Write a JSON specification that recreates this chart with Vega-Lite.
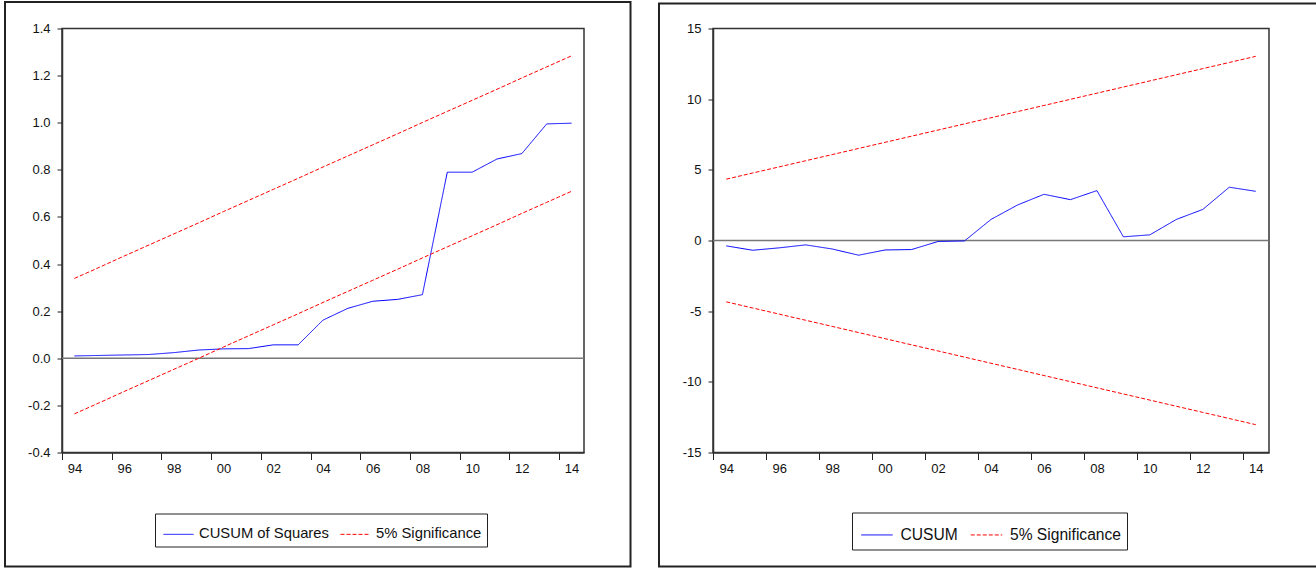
{
  "$schema": "https://vega.github.io/schema/vega-lite/v6.json",
  "padding": {"left": 3, "top": -0.5, "right": 0, "bottom": 0},
  "background": "white",
  "spacing": 24,
  "config": {
    "font": "Liberation Sans",
    "view": {"stroke": "#333333", "strokeWidth": 1.5},
    "axis": {"grid": false, "domainColor": "#333333", "domainWidth": 1.5, "tickColor": "#222222", "tickWidth": 1, "labelFont": "Liberation Sans", "labelFontSize": 13, "labelColor": "#111111"},
    "legend": {"orient": "none", "direction": "horizontal", "symbolType": "stroke", "symbolStrokeWidth": 1, "labelFont": "Liberation Sans", "labelColor": "#111111", "strokeColor": "#222222", "fillColor": "white", "symbolOffset": 3}
  },
  "resolve": {"scale": {"color": "independent", "strokeDash": "independent"}, "legend": {"color": "independent", "strokeDash": "independent"}},
  "hconcat": [
    {
      "width": 522,
      "height": 424,
      "data": {"values": [
        {"year": 1994, "cusumsq": 0.010, "upper": 0.339, "lower": -0.236},
        {"year": 1995, "cusumsq": 0.012, "upper": 0.386, "lower": -0.189},
        {"year": 1996, "cusumsq": 0.014, "upper": 0.434, "lower": -0.141},
        {"year": 1997, "cusumsq": 0.016, "upper": 0.481, "lower": -0.094},
        {"year": 1998, "cusumsq": 0.024, "upper": 0.528, "lower": -0.047},
        {"year": 1999, "cusumsq": 0.035, "upper": 0.575, "lower": 0.000},
        {"year": 2000, "cusumsq": 0.040, "upper": 0.623, "lower": 0.048},
        {"year": 2001, "cusumsq": 0.041, "upper": 0.670, "lower": 0.095},
        {"year": 2002, "cusumsq": 0.057, "upper": 0.717, "lower": 0.142},
        {"year": 2003, "cusumsq": 0.057, "upper": 0.764, "lower": 0.189},
        {"year": 2004, "cusumsq": 0.162, "upper": 0.812, "lower": 0.237},
        {"year": 2005, "cusumsq": 0.212, "upper": 0.859, "lower": 0.284},
        {"year": 2006, "cusumsq": 0.242, "upper": 0.906, "lower": 0.331},
        {"year": 2007, "cusumsq": 0.250, "upper": 0.953, "lower": 0.378},
        {"year": 2008, "cusumsq": 0.270, "upper": 1.001, "lower": 0.426},
        {"year": 2009, "cusumsq": 0.790, "upper": 1.048, "lower": 0.473},
        {"year": 2010, "cusumsq": 0.790, "upper": 1.095, "lower": 0.520},
        {"year": 2011, "cusumsq": 0.846, "upper": 1.142, "lower": 0.567},
        {"year": 2012, "cusumsq": 0.869, "upper": 1.190, "lower": 0.615},
        {"year": 2013, "cusumsq": 0.995, "upper": 1.237, "lower": 0.662},
        {"year": 2014, "cusumsq": 0.998, "upper": 1.284, "lower": 0.709}
      ]},
      "layer": [
        {
          "data": {"values": [{}]},
          "mark": {"type": "rect", "clip": false, "fill": null, "stroke": "#222222", "strokeWidth": 2},
          "encoding": {
            "x": {"datum": 1991.207, "type": "quantitative", "scale": {"domain": [1993.5, 2014.5], "nice": false, "zero": false},
              "axis": {"title": null, "values": [1993.5, 1994.5, 1995.5, 1996.5, 1997.5, 1998.5, 1999.5, 2000.5, 2001.5, 2002.5, 2003.5, 2004.5, 2005.5, 2006.5, 2007.5, 2008.5, 2009.5, 2010.5, 2011.5, 2012.5, 2013.5, 2014.5],
                "labelExpr": "(datum.value - 1993.5) % 2 == 0 ? substring(toString(datum.value + 0.5), 2) : ''",
                "labelOffset": 12.43, "labelOverlap": false, "labelFlush": false, "tickSize": 7, "labelPadding": 3}},
            "x2": {"datum": 2016.371},
            "y": {"datum": 1.5125, "type": "quantitative", "scale": {"domain": [-0.4, 1.4], "nice": false, "zero": false},
              "axis": {"title": null, "values": [-0.4, -0.2, 0, 0.2, 0.4, 0.6, 0.8, 1.0, 1.2, 1.4], "labelExpr": "replace(format(datum.value, '.1f'), '\u2212', '-')", "tickSize": 5, "labelPadding": 7, "labelOverlap": false, "labelFlush": false}},
            "y2": {"datum": -0.884}
          }
        },
        {
          "data": {"values": [{}]},
          "mark": {"type": "rule", "color": "#777777", "strokeWidth": 1.5},
          "encoding": {"y": {"datum": 0, "type": "quantitative"}}
        },
        {
          "mark": {"type": "line", "strokeWidth": 1},
          "encoding": {
            "x": {"field": "year", "type": "quantitative"},
            "y": {"field": "cusumsq", "type": "quantitative"},
            "color": {"datum": "CUSUM of Squares", "scale": {"domain": ["CUSUM of Squares", "5% Significance"], "range": ["#0000ff", "#ff0000"]},
              "legend": {"title": null, "legendX": 93, "legendY": 485, "padding": 5, "symbolSize": 900, "labelFontSize": 14.8, "labelOffset": 5, "columnPadding": 8}},
            "strokeDash": {"datum": "CUSUM of Squares", "scale": {"domain": ["CUSUM of Squares", "5% Significance"], "range": [[1, 0], [4, 2]]},
              "legend": {"title": null, "legendX": 93, "legendY": 485, "padding": 5, "symbolSize": 900, "labelFontSize": 14.8, "labelOffset": 5, "columnPadding": 8}}
          }
        },
        {
          "mark": {"type": "line", "strokeWidth": 1},
          "encoding": {
            "x": {"field": "year", "type": "quantitative"},
            "y": {"field": "upper", "type": "quantitative"},
            "color": {"datum": "5% Significance"},
            "strokeDash": {"datum": "5% Significance"}
          }
        },
        {
          "mark": {"type": "line", "strokeWidth": 1},
          "encoding": {
            "x": {"field": "year", "type": "quantitative"},
            "y": {"field": "lower", "type": "quantitative"},
            "color": {"datum": "5% Significance"},
            "strokeDash": {"datum": "5% Significance"}
          }
        }
      ]
    },
    {
      "width": 556,
      "height": 424,
      "data": {"values": [
        {"year": 1994, "cusum": -0.38, "upper": 4.340, "lower": -4.340},
        {"year": 1995, "cusum": -0.69, "upper": 4.775, "lower": -4.775},
        {"year": 1996, "cusum": -0.52, "upper": 5.209, "lower": -5.209},
        {"year": 1997, "cusum": -0.31, "upper": 5.644, "lower": -5.644},
        {"year": 1998, "cusum": -0.60, "upper": 6.078, "lower": -6.078},
        {"year": 1999, "cusum": -1.04, "upper": 6.513, "lower": -6.513},
        {"year": 2000, "cusum": -0.67, "upper": 6.947, "lower": -6.947},
        {"year": 2001, "cusum": -0.64, "upper": 7.382, "lower": -7.382},
        {"year": 2002, "cusum": -0.07, "upper": 7.816, "lower": -7.816},
        {"year": 2003, "cusum": -0.03, "upper": 8.251, "lower": -8.251},
        {"year": 2004, "cusum": 1.49, "upper": 8.685, "lower": -8.685},
        {"year": 2005, "cusum": 2.51, "upper": 9.120, "lower": -9.120},
        {"year": 2006, "cusum": 3.27, "upper": 9.554, "lower": -9.554},
        {"year": 2007, "cusum": 2.89, "upper": 9.989, "lower": -9.989},
        {"year": 2008, "cusum": 3.53, "upper": 10.423, "lower": -10.423},
        {"year": 2009, "cusum": 0.26, "upper": 10.858, "lower": -10.858},
        {"year": 2010, "cusum": 0.40, "upper": 11.292, "lower": -11.292},
        {"year": 2011, "cusum": 1.49, "upper": 11.727, "lower": -11.727},
        {"year": 2012, "cusum": 2.20, "upper": 12.161, "lower": -12.161},
        {"year": 2013, "cusum": 3.77, "upper": 12.596, "lower": -12.596},
        {"year": 2014, "cusum": 3.48, "upper": 13.030, "lower": -13.030}
      ]},
      "layer": [
        {
          "data": {"values": [{}]},
          "mark": {"type": "rect", "clip": false, "fill": null, "stroke": "#222222", "strokeWidth": 2},
          "encoding": {
            "x": {"datum": 1991.46, "type": "quantitative", "scale": {"domain": [1993.5, 2014.5], "nice": false, "zero": false},
              "axis": {"title": null, "values": [1993.5, 1994.5, 1995.5, 1996.5, 1997.5, 1998.5, 1999.5, 2000.5, 2001.5, 2002.5, 2003.5, 2004.5, 2005.5, 2006.5, 2007.5, 2008.5, 2009.5, 2010.5, 2011.5, 2012.5, 2013.5, 2014.5],
                "labelExpr": "(datum.value - 1993.5) % 2 == 0 ? substring(toString(datum.value + 0.5), 2) : ''",
                "labelOffset": 13.24, "labelOverlap": false, "labelFlush": false, "tickSize": 7, "labelPadding": 3}},
            "x2": {"datum": 2016.46},
            "y": {"datum": 16.769, "type": "quantitative", "scale": {"domain": [-15, 15], "nice": false, "zero": false},
              "axis": {"title": null, "values": [-15, -10, -5, 0, 5, 10, 15], "labelExpr": "replace(format(datum.value, 'd'), '\u2212', '-')", "tickSize": 5, "labelPadding": 7, "labelOverlap": false, "labelFlush": false}},
            "y2": {"datum": -23.066}
          }
        },
        {
          "data": {"values": [{}]},
          "mark": {"type": "rule", "color": "#777777", "strokeWidth": 1.5},
          "encoding": {"y": {"datum": 0, "type": "quantitative"}}
        },
        {
          "mark": {"type": "line", "strokeWidth": 1},
          "encoding": {
            "x": {"field": "year", "type": "quantitative"},
            "y": {"field": "cusum", "type": "quantitative"},
            "color": {"datum": "CUSUM", "scale": {"domain": ["CUSUM", "5% Significance"], "range": ["#0000ff", "#ff0000"]},
              "legend": {"title": null, "legendX": 139, "legendY": 484, "padding": 5.5, "symbolSize": 992, "labelFontSize": 15.6, "labelOffset": 7, "columnPadding": 8.5}},
            "strokeDash": {"datum": "CUSUM", "scale": {"domain": ["CUSUM", "5% Significance"], "range": [[1, 0], [4, 2]]},
              "legend": {"title": null, "legendX": 139, "legendY": 484, "padding": 5.5, "symbolSize": 992, "labelFontSize": 15.6, "labelOffset": 7, "columnPadding": 8.5}}
          }
        },
        {
          "mark": {"type": "line", "strokeWidth": 1},
          "encoding": {
            "x": {"field": "year", "type": "quantitative"},
            "y": {"field": "upper", "type": "quantitative"},
            "color": {"datum": "5% Significance"},
            "strokeDash": {"datum": "5% Significance"}
          }
        },
        {
          "mark": {"type": "line", "strokeWidth": 1},
          "encoding": {
            "x": {"field": "year", "type": "quantitative"},
            "y": {"field": "lower", "type": "quantitative"},
            "color": {"datum": "5% Significance"},
            "strokeDash": {"datum": "5% Significance"}
          }
        }
      ]
    }
  ]
}
